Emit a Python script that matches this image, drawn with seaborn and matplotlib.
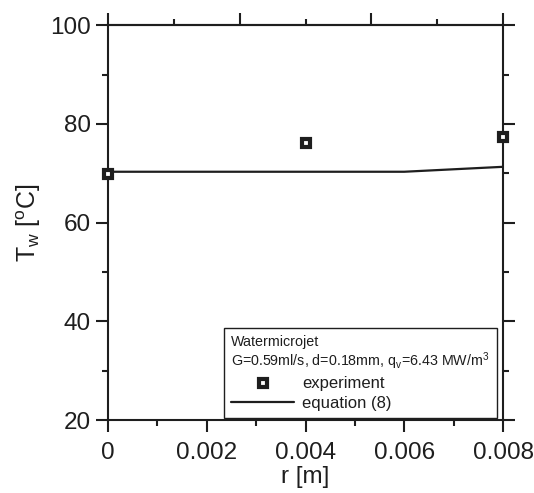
import numpy as np
import pandas as pd
import matplotlib
matplotlib.use("Agg")
import matplotlib.pyplot as plt
import seaborn as sns

# experimental points and model curve
r_exp = [0.0, 0.004, 0.008]
tw_exp = [69.9, 76.1, 77.4]
r_eq = [0.0, 0.002, 0.004, 0.006, 0.008]
tw_eq = [70.3, 70.3, 70.3, 70.3, 71.3]

x_ticks = [0, 0.002, 0.004, 0.006, 0.008]
x_labels = ["0", "0.002", "0.004", "0.006", "0.008"]
y_ticks = [20, 40, 60, 80, 100]

sns.set_style("ticks")
plt.rcParams['font.family'] = ['Liberation Sans', 'DejaVu Sans']
plt.rcParams['mathtext.fontset'] = 'custom'
plt.rcParams['mathtext.rm'] = 'Liberation Sans'
plt.rcParams['mathtext.it'] = 'Liberation Sans'

ink = '#1e1e1e'
df_exp = pd.DataFrame({'r': r_exp, 'tw': tw_exp})
df_eq = pd.DataFrame({'r': r_eq, 'tw': tw_eq})

fig = plt.figure(figsize=(5.34, 4.93), dpi=100)
ax = fig.add_axes([0.2022, 0.148, 0.7398, 0.801])

sns.lineplot(data=df_eq, x='r', y='tw', ax=ax, color=ink, lw=1.6,
             label='equation (8)', zorder=2)
ax.plot(df_exp['r'], df_exp['tw'], ls='none', marker='s', ms=6.0,
        mfc='white', mec=ink, mew=3.0, label='experiment',
        clip_on=False, zorder=3)

ax.set_xlim(0, 0.008)
ax.set_ylim(20, 100)
ax.set_xticks(x_ticks)
ax.set_xticklabels(x_labels)
ax.set_yticks(y_ticks)
ax.set_xticks(np.arange(0.001, 0.008, 0.002), minor=True)
ax.set_yticks(np.arange(30, 100, 20), minor=True)

for s in ax.spines.values():
    s.set_color(ink)
    s.set_linewidth(1.5)
    s.set_visible(True)
ax.tick_params(which='major', direction='out', length=8.5, width=1.5,
               color=ink, labelsize=17.5, labelcolor=ink, top=False, right=True,
               labeltop=False, labelright=False, pad=4)
ax.tick_params(which='minor', direction='out', length=4, width=1.5,
               color=ink, top=False, right=True)
ax.tick_params(axis='x', which='major', pad=7)

# top axis has its own division in thirds
top = ax.secondary_xaxis('top')
top.set_xticks(np.linspace(0, 0.008, 4))
top.set_xticks(np.linspace(0, 0.008, 7)[1::2], minor=True)
top.tick_params(which='major', direction='out', length=8.5, width=1.5,
                color=ink, labeltop=False)
top.tick_params(which='minor', direction='out', length=4, width=1.5, color=ink)
top.spines['top'].set_linewidth(1.5)
top.spines['top'].set_color(ink)

ax.set_xlabel('r [m]', fontsize=17.5, labelpad=1.5, color=ink)
ax.set_ylabel(r'T$_\mathregular{w}$ [$^\mathregular{o}$C]', fontsize=18,
              labelpad=5, color=ink)

handles, labels = ax.get_legend_handles_labels()
order = [labels.index('experiment'), labels.index('equation (8)')]
leg = ax.legend([handles[i] for i in order], [labels[i] for i in order],
                title='Watermicrojet\nG=0.59ml/s, d=0.18mm, q$_\\mathregular{v}$=6.43 MW/m$^\\mathregular{3}$',
                loc='lower right', bbox_to_anchor=(0.985, 0.005),
                borderaxespad=0,
                fontsize=12, title_fontsize=10.3, fancybox=False,
                framealpha=1, edgecolor=ink, borderpad=0.45,
                labelspacing=0.25, handlelength=3.8, handletextpad=0.45,
                markerscale=1.0)
leg._legend_box.align = 'left'
leg.get_frame().set_linewidth(1.0)
leg.get_title().set_linespacing(1.1)
leg.get_title().set_color(ink)
for t in leg.get_texts():
    t.set_color(ink)

fig.savefig('out.png', dpi=100)
